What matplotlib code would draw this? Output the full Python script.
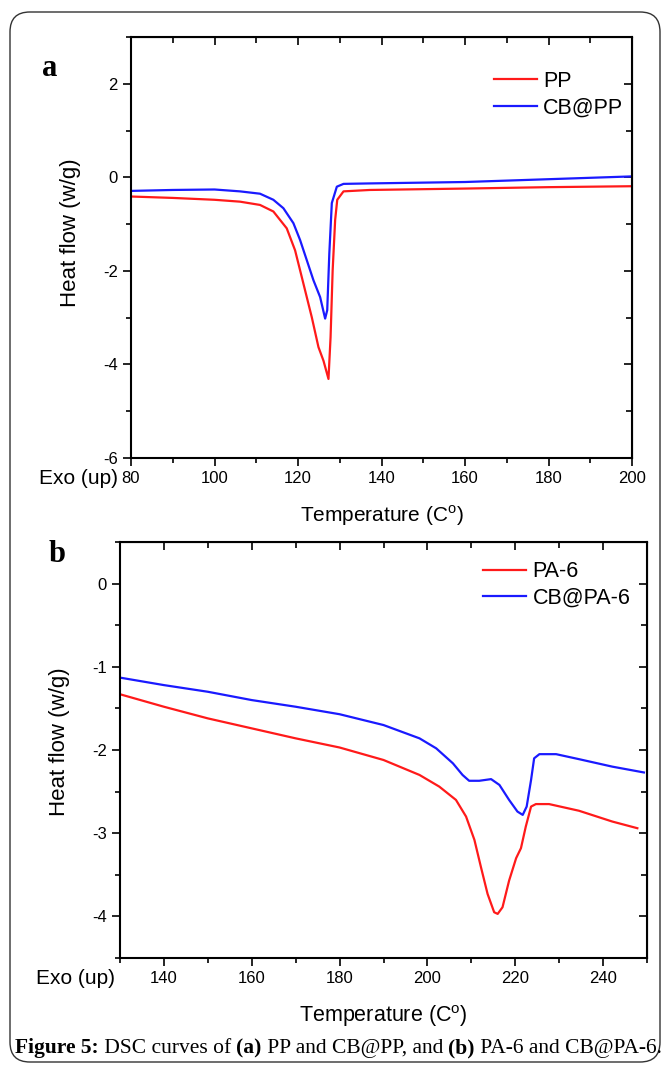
import numpy as np
import matplotlib
matplotlib.use("Agg")
import matplotlib.pyplot as plt
from matplotlib.patches import FancyBboxPatch
from matplotlib.ticker import MultipleLocator

plt.rcParams['font.family'] = ['Liberation Sans', 'DejaVu Sans']
plt.rcParams['mathtext.fontset'] = 'custom'
plt.rcParams['mathtext.rm'] = 'Liberation Sans'
plt.rcParams['axes.unicode_minus'] = False

# (a) PP / CB@PP
pp_t = [80, 90, 100, 106.1, 110.9, 114.1, 117.3, 119.3, 120.9, 122.1, 123.3, 124.9, 126.1,
        127.3, 127.8, 128.3, 128.9, 129.4, 130.9, 137.2, 160, 180, 200]
pp_h = [-0.41, -0.44, -0.48, -0.52, -0.59, -0.73, -1.09, -1.56, -2.13, -2.56, -2.99, -3.63, -3.92,
        -4.31, -3.42, -1.99, -0.91, -0.48, -0.30, -0.27, -0.24, -0.21, -0.19]
cbpp_t = [80, 90, 100, 106.1, 110.9, 114.1, 116.5, 118.9, 120.5, 122.1, 123.7, 125.3, 126.5,
          127.0, 127.5, 128.1, 129.3, 130.9, 137.2, 160, 180, 200]
cbpp_h = [-0.29, -0.27, -0.26, -0.30, -0.35, -0.48, -0.66, -0.98, -1.34, -1.77, -2.20, -2.56, -3.02,
          -2.84, -1.63, -0.55, -0.20, -0.14, -0.13, -0.10, -0.04, 0.02]

# (b) PA-6 / CB@PA-6
pa_t = [130, 140, 150, 160, 170, 180, 190, 198.2, 202.7, 206.5, 208.8, 210.7, 212.2, 213.7,
        215.2, 216.0, 217.1, 218.6, 220.2, 221.3, 222.4, 223.6, 224.7, 227.7, 234.5, 242.1, 247.8]
pa_h = [-1.33, -1.48, -1.62, -1.74, -1.86, -1.97, -2.12, -2.30, -2.44, -2.60, -2.80, -3.08, -3.41,
        -3.73, -3.95, -3.97, -3.89, -3.57, -3.30, -3.18, -2.92, -2.68, -2.65, -2.65, -2.73, -2.86, -2.94]
cbpa_t = [130, 140, 150, 160, 170, 180, 190, 198.2, 202.0, 205.8, 208.0, 209.5, 211.8, 214.5,
          216.4, 218.6, 220.5, 221.7, 222.6, 223.6, 224.3, 225.5, 229.3, 234.5, 242.1, 249.3]
cbpa_h = [-1.13, -1.22, -1.30, -1.40, -1.48, -1.57, -1.70, -1.86, -1.98, -2.16, -2.30, -2.37, -2.37,
          -2.35, -2.42, -2.60, -2.74, -2.78, -2.68, -2.36, -2.10, -2.05, -2.05, -2.11, -2.20, -2.27]

W, H = 662, 1066
fig = plt.figure(figsize=(W / 100, H / 100), dpi=100)

frame = FancyBboxPatch((10 / W, 4 / H), 650 / W, 1050 / H,
                       boxstyle="round,pad=0,rounding_size=0.03",
                       transform=fig.transFigure, fill=False, ec='#333333', lw=1.0,
                       mutation_aspect=W / H)
fig.patches.append(frame)


def style(ax, xmaj, xmin, ymaj, ymin, leg_anchor, xlab_size):
    for s in ax.spines.values():
        s.set_linewidth(1.5)
    ax.xaxis.set_major_locator(MultipleLocator(xmaj))
    ax.xaxis.set_minor_locator(MultipleLocator(xmin))
    ax.yaxis.set_major_locator(MultipleLocator(ymaj))
    ax.yaxis.set_minor_locator(MultipleLocator(ymin))
    ax.tick_params(which='major', direction='out', length=6, width=1.2, labelsize=12)
    ax.tick_params(which='minor', direction='out', length=3.5, width=1.2)
    top = ax.secondary_xaxis('top')
    top.xaxis.set_major_locator(MultipleLocator(xmaj))
    top.xaxis.set_minor_locator(MultipleLocator(xmin))
    top.tick_params(which='major', direction='in', length=6, width=1.2, labeltop=False)
    top.tick_params(which='minor', direction='in', length=4, width=1.2)
    right = ax.secondary_yaxis('right')
    right.yaxis.set_major_locator(MultipleLocator(ymaj))
    right.yaxis.set_minor_locator(MultipleLocator(ymin))
    right.tick_params(which='major', direction='in', length=6, width=1.2, labelright=False)
    right.tick_params(which='minor', direction='in', length=4, width=1.2)
    ax.set_xlabel('Temperature (C$^\\mathrm{o}$)', fontsize=xlab_size, labelpad=12)
    ax.set_ylabel('Heat flow (w/g)', fontsize=16)
    ax.legend(loc='upper right', bbox_to_anchor=leg_anchor, frameon=False, fontsize=15.5,
              handlelength=2.0, handletextpad=0.3, labelspacing=0.25, borderaxespad=0)


ax1 = fig.add_axes([131 / W, 1 - 458 / H, 501 / W, 421 / H])
ax1.plot(pp_t, pp_h, color='#ff1a1a', lw=1.6, label='PP')
ax1.plot(cbpp_t, cbpp_h, color='#1a1aff', lw=1.6, label='CB@PP')
ax1.set_xlim(80, 200)
ax1.set_ylim(-6, 3)
style(ax1, 20, 10, 2, 1, (1.0, 0.94), 15)
ax1.yaxis.set_label_coords(-0.10, 0.534)

ax2 = fig.add_axes([120 / W, 1 - 958 / H, 527 / W, 416 / H])
ax2.plot(pa_t, pa_h, color='#ff1a1a', lw=1.6, label='PA-6')
ax2.plot(cbpa_t, cbpa_h, color='#1a1aff', lw=1.6, label='CB@PA-6')
ax2.set_xlim(130, 250)
ax2.set_ylim(-4.5, 0.5)
style(ax2, 20, 10, 1, 0.5, (0.985, 0.974), 15.5)
ax2.yaxis.set_label_coords(-0.095, 0.52)

fig.text(118 / W, 1 - 478 / H, 'Exo (up)', ha='right', va='center', fontsize=15)
fig.text(115 / W, 1 - 978 / H, 'Exo (up)', ha='right', va='center', fontsize=15)

fig.text(50 / W, 1 - 68 / H, 'a', family='Liberation Serif', weight='bold', fontsize=22,
         ha='center', va='center')
fig.text(57 / W, 1 - 555 / H, 'b', family='Liberation Serif', weight='bold', fontsize=22,
         ha='center', va='center')

# caption, mixed bold / regular
parts = [('Figure 5:', 'bold'), (' DSC curves of ', 'normal'), ('(a)', 'bold'),
         (' PP and CB@PP, and ', 'normal'), ('(b)', 'bold'), (' PA-6 and CB@PA-6.', 'normal')]
renderer = fig.canvas.get_renderer()
x = 15
for txt, w in parts:
    t = fig.text(x / W, 1 - 1053 / H, txt, family='Liberation Serif', weight=w, fontsize=15.5,
                 ha='left', va='baseline')
    bb = t.get_window_extent(renderer)
    x = bb.x1

fig.savefig('out.png', dpi=100)
